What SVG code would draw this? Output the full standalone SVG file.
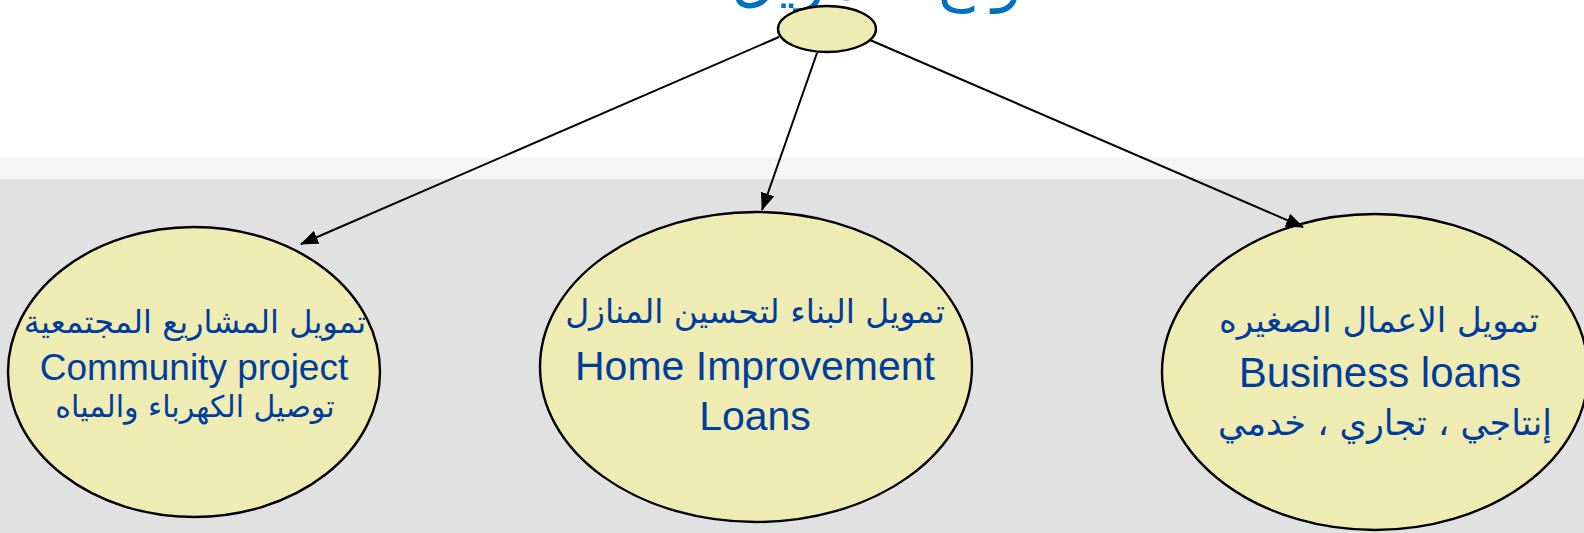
<svg xmlns="http://www.w3.org/2000/svg" width="1584" height="533" viewBox="0 0 1584 533">
<defs>
<style>
.node{fill:#eeecb2;stroke:#000;stroke-width:2.4}
.en{font-family:"Liberation Sans",Arial,sans-serif;fill:#003b9e;text-anchor:middle}
.ar{font-family:"DejaVu Sans","Liberation Sans",sans-serif;fill:#003b9e;text-anchor:middle}
.edge{stroke:#000;stroke-width:2;fill:none;marker-end:url(#ah)}
</style>
<marker id="ah" viewBox="0 0 18 14" refX="17" refY="7" markerWidth="18" markerHeight="14" markerUnits="userSpaceOnUse" orient="auto">
<path d="M0,0 L18,7 L0,14 z" fill="#000"/>
</marker>
</defs>
<rect x="0" y="0" width="1584" height="533" fill="#ffffff"/>
<rect x="0" y="158" width="1584" height="21" fill="#f6f6f6"/>
<rect x="0" y="179" width="1584" height="354" fill="#e1e1e1"/>
<text x="895" y="-1" font-family="DejaVu Sans, sans-serif" font-size="62" fill="#0070c0" text-anchor="middle">أنواع التمويل</text>
<g id="root">
<ellipse class="node" cx="827" cy="29" rx="49" ry="23"/>
</g>
<g id="community">
<ellipse class="node" cx="194" cy="372" rx="186" ry="145"/>
<text class="ar" x="195" y="333" font-size="32">تمويل المشاريع المجتمعية</text>
<text class="en" x="194" y="380" font-size="37">Community project</text>
<text class="ar" x="195" y="417" font-size="30">توصيل الكهرباء والمياه</text>
</g>
<g id="home">
<ellipse class="node" cx="756" cy="367" rx="216" ry="155"/>
<text class="ar" x="755" y="323" font-size="33">تمويل البناء لتحسين المنازل</text>
<text class="en" x="755" y="380" font-size="41">Home Improvement </text>
<text class="en" x="755" y="430" font-size="41">Loans</text>
</g>
<g id="business">
<ellipse class="node" cx="1375" cy="372" rx="213" ry="158"/>
<text class="ar" x="1379" y="332" font-size="34">تمويل الاعمال الصغيره</text>
<text class="en" x="1380" y="387" font-size="42">Business loans</text>
<text class="ar" x="1385" y="435" font-size="35">إنتاجي ، تجاري ، خدمي</text>
</g>
<g id="edges">
<path class="edge" d="M779,37 L301,244"/>
<path class="edge" d="M817,53 L762,210"/>
<path class="edge" d="M870,40 L1303,227"/>
</g>
</svg>
